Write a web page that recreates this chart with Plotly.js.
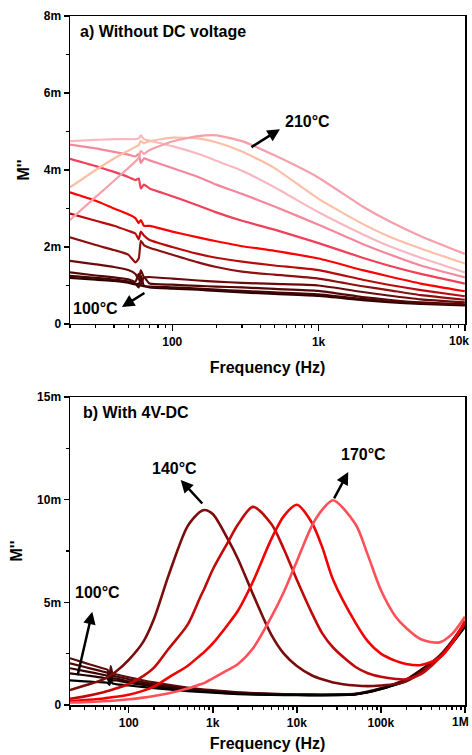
<!DOCTYPE html>
<html>
<head>
<meta charset="utf-8">
<script src="https://cdn.plot.ly/plotly-3.0.1.min.js"></script>
<style>
  html, body { margin: 0; padding: 0; background: #ffffff; }
  #chart { width: 472px; height: 755px; }
</style>
</head>
<body>
<div id="chart"></div>
<script>
// ---------- (a) Without DC voltage : frequency (Hz) and M'' (in m units) ----------
const freqA = [20, 30, 40, 50, 56, 59, 61, 64, 70, 100, 150, 200, 300, 500, 1000, 2000, 3000, 5000, 10000];
const tempsA = ['100°C','110°C','120°C','130°C','140°C','150°C','160°C','170°C','180°C','190°C','200°C','210°C'];
const a100 = [1.20,1.15,1.12,1.07,1.03,1.05,1.00,0.98,0.95,0.92,0.89,0.86,0.82,0.78,0.73,0.62,0.57,0.52,0.48];
const a110 = [1.25,1.20,1.15,1.10,1.05,0.95,1.25,1.00,0.97,0.95,0.92,0.89,0.86,0.82,0.77,0.65,0.59,0.54,0.50];
const a120 = [1.34,1.26,1.21,1.16,1.10,1.30,1.00,1.22,1.05,1.02,0.99,0.97,0.95,0.91,0.86,0.70,0.63,0.56,0.51];
const a130 = [1.64,1.55,1.48,1.40,1.30,1.15,1.40,1.22,1.22,1.18,1.13,1.10,1.07,1.04,1.00,0.83,0.74,0.64,0.56];
const a140 = [2.25,2.05,1.92,1.80,1.60,1.70,2.16,2.05,1.98,1.80,1.60,1.48,1.36,1.28,1.18,0.98,0.88,0.75,0.63];
const a150 = [2.87,2.68,2.55,2.42,2.35,2.20,2.40,2.30,2.18,2.00,1.82,1.72,1.62,1.52,1.40,1.15,1.02,0.88,0.72];
const a160 = [3.42,3.20,3.00,2.85,2.75,2.62,2.70,2.55,2.55,2.40,2.25,2.15,2.02,1.90,1.70,1.40,1.24,1.05,0.85];
const a170 = [4.29,4.10,3.95,3.82,3.74,3.78,3.52,3.62,3.52,3.32,3.08,2.90,2.68,2.45,2.10,1.72,1.52,1.30,1.05];
const a180 = [4.66,4.56,4.47,4.40,4.35,4.42,4.18,4.30,4.25,4.05,3.82,3.62,3.38,3.05,2.58,2.08,1.82,1.52,1.21];
const a190 = [4.75,4.78,4.80,4.80,4.80,4.82,4.90,4.80,4.76,4.62,4.42,4.24,3.98,3.55,2.90,2.33,2.03,1.72,1.34];
const a200 = [3.55,4.00,4.30,4.50,4.60,4.65,4.75,4.70,4.75,4.84,4.82,4.72,4.48,4.05,3.25,2.60,2.28,1.96,1.57];
const a210 = [2.70,3.30,3.72,4.05,4.22,4.32,4.50,4.42,4.52,4.74,4.88,4.90,4.75,4.38,3.80,3.05,2.68,2.28,1.82];
const seriesA = [a100,a110,a120,a130,a140,a150,a160,a170,a180,a190,a200,a210];
const colorsA = ['#2e0000','#420404','#540707','#6a0b0b','#8c1010','#b80c0c','#ff0000','#f0405a','#f4889a','#f9b8c0','#fcbfa6','#f5a0aa'];

// ---------- (b) With 4V-DC ----------
const freqB = [20,30,50,70,100,150,200,300,500,700,800,1000,1500,2000,3000,5000,7000,10000,15000,20000,27000,50000,70000,100000,150000,200000,300000,500000,700000,1000000];
const b140 = [0.73,0.95,1.25,1.62,2.2,3.1,4.2,6.35,8.7,9.4,9.5,9.3,8.1,7.1,5.4,3.4,2.5,1.9,1.45,1.25,1.1,0.95,0.92,0.95,1.02,1.15,1.6,2.4,3.1,4.0];
const b150 = [0.3,0.42,0.62,0.8,1.02,1.42,1.82,2.75,3.9,5.2,5.7,6.6,7.9,8.8,9.65,8.8,7.6,6.1,4.5,3.5,2.8,1.85,1.55,1.38,1.27,1.25,1.5,2.3,3.0,4.0];
const b160 = [0.18,0.24,0.32,0.4,0.5,0.7,0.9,1.35,1.9,2.4,2.6,3.0,3.9,4.6,6.0,8.1,9.2,9.75,8.9,7.7,6.1,4.0,3.1,2.5,2.15,2.0,1.95,2.3,3.0,4.1];
const b170 = [0.12,0.14,0.18,0.22,0.28,0.36,0.44,0.57,0.8,1.0,1.08,1.3,1.7,2.0,2.75,4.3,5.5,7.0,8.7,9.5,9.97,8.8,7.3,5.6,4.3,3.75,3.2,3.05,3.45,4.3];
const peaksB = [b140,b150,b160,b170];
const peakNamesB = ['140°C','150°C','160°C','170°C'];
const peakColorsB = ['#7a0c0c','#c00a0a','#f40000','#ff5058'];

const freqC = [20,30,40,50,56,59,61,64,70,100,200,500,1000,2000,5000,10000,20000,50000,100000,200000,300000,500000,700000,1000000];
const c130 = [2.28,2.05,1.90,1.78,1.72,1.25,1.90,1.55,1.50,1.35,1.10,0.85,0.72,0.62,0.55,0.52,0.51,0.55,0.82,1.25,1.72,2.40,3.10,4.00];
const c120 = [2.03,1.85,1.72,1.62,1.56,1.30,1.70,1.42,1.40,1.25,1.02,0.80,0.68,0.60,0.53,0.51,0.50,0.54,0.80,1.22,1.70,2.38,3.05,3.95];
const c110 = [1.79,1.65,1.55,1.47,1.42,1.20,1.55,1.30,1.30,1.15,0.95,0.75,0.65,0.57,0.51,0.50,0.49,0.53,0.79,1.20,1.68,2.36,3.02,3.90];
const c105 = [1.54,1.45,1.38,1.32,1.28,1.10,1.40,1.20,1.20,1.08,0.90,0.72,0.62,0.55,0.50,0.49,0.48,0.52,0.78,1.18,1.66,2.34,3.00,3.85];
const c100 = [1.20,1.15,1.12,1.10,1.08,0.98,1.25,1.05,1.02,0.95,0.82,0.68,0.60,0.53,0.49,0.48,0.47,0.51,0.77,1.17,1.64,2.32,2.98,3.80];
const flatsB = [c130,c120,c110,c105,c100];
const flatNamesB = ['130°C','120°C','110°C','105°C','100°C'];
const flatColorsB = ['#5e0c0c','#4a0808','#380404','#260202','#000000'];

// tick labels (the last one of each axis is drawn as an edge label so it stays inside the page)
const xTicksA = [100, 1000, 10000], xTextA = ['100', '1k', '10k'];
const xTicksB = [100, 1000, 10000, 100000, 1000000], xTextB = ['100', '1k', '10k', '100k', '1M'];
const yTicksA = [0, 2, 4, 6, 8], yTextA = ['0', '2m', '4m', '6m', '8m'];
const yTicksB = [0, 5, 10, 15], yTextB = ['0', '5m', '10m', '15m'];

// ---------- build ----------
const FONT = 'Liberation Sans, Arial, Helvetica, sans-serif';
const traces = [];
seriesA.forEach((s, i) => traces.push({
  x: freqA, y: s, type: 'scatter', mode: 'lines', name: tempsA[i],
  xaxis: 'x', yaxis: 'y', line: {color: colorsA[i], width: 2.2, shape: 'spline', smoothing: 0.5}, showlegend: false
}));
flatsB.forEach((s, i) => traces.push({
  x: freqC, y: s, type: 'scatter', mode: 'lines', name: flatNamesB[i],
  xaxis: 'x2', yaxis: 'y2', line: {color: flatColorsB[i], width: 2.2, shape: 'spline', smoothing: 0.5}, showlegend: false
}));
peaksB.forEach((s, i) => traces.push({
  x: freqB, y: s, type: 'scatter', mode: 'lines', name: peakNamesB[i],
  xaxis: 'x2', yaxis: 'y2', line: {color: peakColorsB[i], width: 2.6, shape: 'spline', smoothing: 0.8}, showlegend: false
}));

function minorLog(lo, hi) {
  const v = [];
  for (let d = lo; d < hi; d *= 10) for (let k = 2; k <= 9; k++) v.push(k * d);
  return v;
}
const tickFont = {family: FONT, size: 12, color: '#000', weight: 'bold'};
const titleFont = {family: FONT, size: 16, color: '#000', weight: 'bold'};
function xAxis(rangeHi, tv, tt, anchor, standoff) {
  const shown = tt.slice(0, -1).concat(['']);
  return {
    type: 'log', range: [Math.log10(20), rangeHi + 0.001], anchor: anchor,
    tickmode: 'array', tickvals: tv, ticktext: shown,
    ticks: 'outside', ticklen: 6, tickwidth: 1.5, tickcolor: '#000',
    minor: {ticks: 'outside', ticklen: 3, tickwidth: 1.2, tickcolor: '#000', tickmode: 'array', tickvals: minorLog(10, Math.pow(10, rangeHi))},
    showline: true, linecolor: '#000', linewidth: 1.5, mirror: true,
    showgrid: false, zeroline: false, tickfont: tickFont,
    title: {text: 'Frequency (Hz)', font: titleFont, standoff: standoff}
  };
}
function yAxis(domain, range, tv, tt, minorDt, anchor) {
  return {
    domain: domain, range: range, anchor: anchor,
    tickmode: 'array', tickvals: tv, ticktext: tt,
    ticks: 'outside', ticklen: 5, tickwidth: 1.5, tickcolor: '#000',
    minor: {ticks: 'outside', ticklen: 3, tickwidth: 1.2, tickcolor: '#000', dtick: minorDt, tick0: 0},
    showline: true, linecolor: '#000', linewidth: 1.5, mirror: true,
    showgrid: false, zeroline: false, tickfont: tickFont,
    title: {text: "M''", font: titleFont, standoff: 10}
  };
}

const arrow = {showarrow: true, arrowhead: 2, arrowsize: 1, arrowwidth: 2.5, arrowcolor: '#000', text: '', standoff: 0, startstandoff: 0};
const labelFont = {family: FONT, size: 16, color: '#000', weight: 'bold'};
const edgeX = (472 - 1 - 70) / 395;

const layout = {
  width: 472, height: 755,
  margin: {l: 70, r: 7, t: 16, b: 50},
  paper_bgcolor: '#ffffff', plot_bgcolor: '#ffffff',
  showlegend: false,
  xaxis: xAxis(4, xTicksA, xTextA, 'y', 14),
  yaxis: yAxis([0.553, 1], [0, 8], yTicksA, yTextA, 1, 'x'),
  xaxis2: xAxis(6, xTicksB, xTextB, 'y2', 9),
  yaxis2: yAxis([0, 0.447], [0, 15], yTicksB, yTextB, 2.5, 'x2'),
  annotations: [
    {xref: 'x domain', yref: 'y domain', x: 0.02, y: 0.951, xanchor: 'left', yanchor: 'middle', showarrow: false, text: 'a) Without DC voltage', font: labelFont},
    {xref: 'x2 domain', yref: 'y2 domain', x: 0.028, y: 0.951, xanchor: 'left', yanchor: 'middle', showarrow: false, text: 'b) With 4V-DC', font: labelFont},
    // last tick labels at the right edge
    {xref: 'paper', yref: 'y domain', x: edgeX, y: 0, xanchor: 'right', yanchor: 'top', yshift: -8, showarrow: false, text: xTextA[xTextA.length - 1], font: tickFont},
    {xref: 'paper', yref: 'y2 domain', x: edgeX, y: 0, xanchor: 'right', yanchor: 'top', yshift: -8, showarrow: false, text: xTextB[xTextB.length - 1], font: tickFont},
    // (a) labels & arrows
    {xref: 'x', yref: 'y', x: 2.927, y: 5.25, showarrow: false, text: '210°C', font: labelFont},
    Object.assign({}, arrow, {xref: 'x', yref: 'y', axref: 'x', ayref: 'y', x: 2.736, y: 5.06, ax: 2.531, ay: 4.57}),
    {xref: 'x', yref: 'y', x: 1.472, y: 0.40, showarrow: false, text: '100°C', font: labelFont},
    Object.assign({}, arrow, {xref: 'x', yref: 'y', axref: 'x', ayref: 'y', x: 1.656, y: 0.44, ax: 1.820, ay: 0.83}),
    // (b) labels & arrows
    {xref: 'x2', yref: 'y2', x: 2.547, y: 11.54, showarrow: false, text: '140°C', font: labelFont},
    Object.assign({}, arrow, {xref: 'x2', yref: 'y2', axref: 'x2', ayref: 'y2', x: 2.618, y: 10.96, ax: 2.891, ay: 9.74}),
    {xref: 'x2', yref: 'y2', x: 4.790, y: 12.18, showarrow: false, text: '170°C', font: labelFont},
    Object.assign({}, arrow, {xref: 'x2', yref: 'y2', axref: 'x2', ayref: 'y2', x: 4.612, y: 11.35, ax: 4.434, ay: 9.99}),
    {xref: 'x2', yref: 'y2', x: 1.633, y: 5.46, showarrow: false, text: '100°C', font: labelFont},
    Object.assign({}, arrow, {xref: 'x2', yref: 'y2', axref: 'x2', ayref: 'y2', x: 1.566, y: 4.54, ax: 1.388, ay: 1.38})
  ]
};

Plotly.newPlot('chart', traces, layout, {staticPlot: true, displayModeBar: false});
</script>
</body>
</html>
